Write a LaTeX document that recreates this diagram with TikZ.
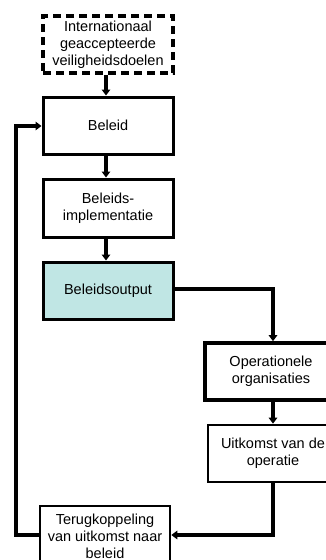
\documentclass[tikz,border=0pt]{standalone}
\usepackage{fontspec}
\setmainfont{Liberation Sans}
\usetikzlibrary{arrows.meta}
\definecolor{tealbox}{HTML}{C0E6E4}
\begin{document}
\begin{tikzpicture}[x=1pt,y=-1pt,
  boxstyle/.style={draw=black,line width=3pt,fill=white,align=center,
    font=\fontsize{14.5}{17}\selectfont,inner sep=0pt},
  conn/.style={line width=3.3pt,-{Triangle[length=6pt,width=8.5pt]}}]
\useasboundingbox (0,0) rectangle (326,560);
\begin{scope}
\clip (0,0) rectangle (326,560);
\node[boxstyle,dashed,line width=3.3pt,dash pattern=on 8pt off 5pt,minimum width=130pt,minimum height=57pt] (goals) at (108,44.5) {Internationaal\\geaccepteerde\\veiligheidsdoelen};
\node[boxstyle,minimum width=130pt,minimum height=57pt] (beleid) at (108,125.5) {Beleid};
\node[boxstyle,minimum width=130pt,minimum height=58pt] (impl) at (108,208) {Beleids-\\implementatie};
\node[boxstyle,fill=tealbox,minimum width=130pt,minimum height=57pt] (output) at (108,290.5) {Beleidsoutput};
\node[boxstyle,line width=3.6pt,minimum width=132pt,minimum height=57pt] (oper) at (271,371.5) {Operationele\\organisaties};
\node[boxstyle,line width=2.6pt,minimum width=130pt,minimum height=57pt] (uitk) at (273,453.5) {Uitkomst van de\\operatie};
\node[boxstyle,line width=2.6pt,minimum width=130pt,minimum height=60pt] (terug) at (105,536) {Terugkoppeling\\van uitkomst naar\\beleid};
\coordinate (c1) at (273,289);
\coordinate (c2) at (273,535);
\coordinate (c3) at (16,535);
\coordinate (c4) at (16,126);
\draw[conn] (goals.south -| 106,0) -- (beleid.north -| 106,0);
\draw[conn] (beleid.south -| 106,0) -- (impl.north -| 106,0);
\draw[conn] (impl.south -| 106,0) -- (output.north -| 106,0);
\draw[conn] (output.east |- c1) -- (c1) -- (oper.north -| c1);
\draw[conn] (oper.south -| c1) -- (uitk.north -| c1);
\draw[conn] (uitk.south -| c2) -- (c2) -- (terug.east |- c2);
\draw[conn] (terug.west |- c3) -- (c3) -- (c4) -- (beleid.west |- c4);
\end{scope}
\end{tikzpicture}
\end{document}
